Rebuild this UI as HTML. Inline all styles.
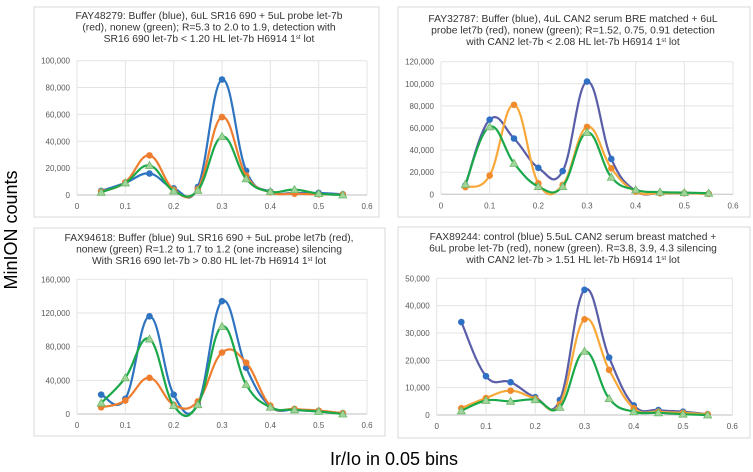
<!DOCTYPE html>
<html><head><meta charset="utf-8"><style>
body{margin:0;background:#fff;width:753px;height:472px;overflow:hidden;font-family:"Liberation Sans",sans-serif}
svg{position:absolute;left:0;top:0}
</style></head><body>
<svg id="c" width="753" height="472" viewBox="0 0 753 472">
<text x="17" y="230" font-size="18" text-anchor="middle" transform="rotate(-90 17 230)" fill="#000">MinION counts</text>
<text x="394" y="465" font-size="18" text-anchor="middle" fill="#000">Ir/Io in 0.05 bins</text>
</svg>
<script>
const xs=[0.05,0.1,0.15,0.2,0.25,0.3,0.35,0.4,0.45,0.5,0.55];
const xTicks=[0,0.1,0.2,0.3,0.4,0.5,0.6];
const p1Blue=[3000,9000,16000,5000,6000,86000,18000,2500,1500,1500,500];
const p1Orange=[2500,9500,29500,4000,4500,58000,14500,2000,1000,500,300];
const p1Green=[2000,9000,22000,3000,3500,43500,12000,2500,4000,1000,0];
const p1YTicks=[0,20000,40000,60000,80000,100000];
const p2Blue=[8000,67500,50500,24000,21000,102000,32000,3000,1000,1000,500];
const p2Orange=[6500,17000,81000,10000,8500,61000,23500,2500,1000,1000,500];
const p2Green=[9000,61000,28000,7000,7000,56000,15500,4000,2000,1500,1000];
const p2YTicks=[0,20000,40000,60000,80000,100000,120000];
const p3Blue=[23000,18000,116000,23000,12000,134000,55000,9000,5000,3000,1000];
const p3Orange=[8000,16000,43000,11000,15000,73000,61000,10000,6000,4000,1000];
const p3Green=[13000,43000,89000,10000,11000,104000,35000,8000,5000,3000,0];
const p3YTicks=[0,40000,80000,120000,160000];
const p4Blue=[34000,14200,12000,6500,5500,45800,21000,3500,1800,1200,300];
const p4Orange=[2500,6200,8900,6000,4000,35000,16500,2500,1200,800,300];
const p4Green=[1500,5300,5000,5600,2800,23300,6000,1200,800,300,0];
const p4YTicks=[0,10000,20000,30000,40000,50000];

const NS="http://www.w3.org/2000/svg";
const svg=document.getElementById('c');
function mk(tag,attrs,parent){const e=document.createElementNS(NS,tag);for(const k in attrs)e.setAttribute(k,attrs[k]);(parent||svg).appendChild(e);return e;}
function fmt(v){return v.toLocaleString('en-US');}
function panel(cfg){
  const g=mk('g',{});
  
  
  const box=mk('rect',{x:cfg.box[0],y:cfg.box[1],width:cfg.box[2],height:cfg.box[3],fill:'#fff',stroke:'#d9d9d9','stroke-width':1},g);
  
  
  cfg.title.forEach((t,i)=>{
    const tx=mk('text',{x:cfg.tx,y:cfg.ty+i*11.5,'font-size':10.3,'text-anchor':'middle',fill:'#333'},g);
    tx.innerHTML=t;
    
    
  });
  const ymax=cfg.yTicks[cfg.yTicks.length-1];
  const X=v=>cfg.x0+(cfg.x1-cfg.x0)*v/0.6;
  const Y=v=>cfg.y0-(cfg.y0-cfg.y1)*v/ymax;
  cfg.yTicks.forEach(t=>{
    const l=mk('line',{x1:X(0),x2:X(0.6),y1:Y(t),y2:Y(t),stroke:t===0?'#bfbfbf':'#e3e3e3','stroke-width':1},g);
    
    
    const tl=mk('text',{x:X(0)-7,y:Y(t)+3,'font-size':8,'text-anchor':'end',fill:'#595959'},g);
    tl.textContent=fmt(t);
    
    
  });
  xTicks.forEach(t=>{
    const l=mk('line',{x1:X(t),x2:X(t),y1:Y(0),y2:Y(ymax),stroke:'#e3e3e3','stroke-width':1},g);
    
    
    const tl=mk('text',{x:X(t),y:Y(0)+14,'font-size':8,'text-anchor':'middle',fill:'#595959'},g);
    tl.textContent=String(t);
    
    
  });
  cfg.series.forEach(s=>{
    const pts=s.data.map((v,i)=>[X(xs[i]),Y(v)]);
    let d='M'+pts[0][0]+','+pts[0][1];
    for(let i=0;i<pts.length-1;i++){
      const p0=pts[Math.max(0,i-1)],p1=pts[i],p2=pts[i+1],p3=pts[Math.min(pts.length-1,i+2)];
      const k=0.2;
      d+=` C${p1[0]+(p2[0]-p0[0])*k},${p1[1]+(p2[1]-p0[1])*k} ${p2[0]-(p3[0]-p1[0])*k},${p2[1]-(p3[1]-p1[1])*k} ${p2[0]},${p2[1]}`;
    }
    const path=mk('path',{d:d,fill:'none',stroke:s.line,'stroke-width':2.2},g);
    
    
    pts.forEach(p=>{
      let m;
      if(s.tri){m=mk('polygon',{points:`${p[0]},${p[1]-4} ${p[0]-4},${p[1]+3} ${p[0]+4},${p[1]+3}`,fill:'#9fd49a',stroke:'#6db86a','stroke-width':0.8},g);}
      else{m=mk('circle',{cx:p[0],cy:p[1],r:3.3,fill:s.marker},g);}
      
      
    });
  });
}
panel({name:'panel-fay48279',box:[34,7,345,210],tx:209,ty:19,
  title:['FAY48279: Buffer (blue), 6uL SR16 690 + 5uL probe let-7b','(red), nonew (green); R=5.3 to 2.0 to 1.9, detection with','SR16 690 let-7b &lt; 1.20 HL let-7b H6914 1<tspan font-size="6" dy="-3">st</tspan><tspan dy="3"> lot</tspan>'],
  x0:77,x1:367,y0:195,y1:60.7,yTicks:p1YTicks,
  series:[{name:'blue-buffer',data:p1Blue,line:'#2f74c0',marker:'#2f74c0'},{name:'orange-probe',data:p1Orange,line:'#ef7d2f',marker:'#ef7d2f'},{name:'green-nonew',data:p1Green,line:'#1aa84a',tri:true}]});
panel({name:'panel-fay32787',box:[398,7,352,210],tx:573,ty:22,
  title:['FAY32787: Buffer (blue), 4uL CAN2 serum BRE matched + 6uL','probe let7b (red), nonew (green); R=1.52, 0.75, 0.91 detection','with CAN2 let-7b &lt; 2.08 HL let-7b H6914 1<tspan font-size="6" dy="-3">st</tspan><tspan dy="3"> lot</tspan>'],
  x0:441,x1:733,y0:194.3,y1:61.7,yTicks:p2YTicks,
  series:[{name:'blue-buffer',data:p2Blue,line:'#5a5ea8',marker:'#2f6fc4'},{name:'orange-probe',data:p2Orange,line:'#f7a838',marker:'#f08a2a'},{name:'green-nonew',data:p2Green,line:'#1aa84a',tri:true}]});
panel({name:'panel-fax94618',box:[34,228,351,208],tx:209,ty:241,
  title:['FAX94618: Buffer (blue) 9uL SR16 690 + 5uL probe let7b (red),','nonew (green) R=1.2 to 1.7 to 1.2 (one increase) silencing','With SR16 690 let-7b &gt; 0.80 HL let-7b H6914 1<tspan font-size="6" dy="-3">st</tspan><tspan dy="3"> lot</tspan>'],
  x0:77,x1:367,y0:414,y1:279.3,yTicks:p3YTicks,
  series:[{name:'blue-buffer',data:p3Blue,line:'#2f74c0',marker:'#2f74c0'},{name:'orange-probe',data:p3Orange,line:'#ef7d2f',marker:'#ef7d2f'},{name:'green-nonew',data:p3Green,line:'#1aa84a',tri:true}]});
panel({name:'panel-fax89244',box:[398,227,352,211],tx:573,ty:240,
  title:['FAX89244: control (blue) 5.5uL CAN2 serum breast matched +','6uL probe let-7b (red), nonew (green). R=3.8, 3.9, 4.3 silencing','with CAN2 let-7b &gt; 1.51 HL let-7b H6914 1<tspan font-size="6" dy="-3">st</tspan><tspan dy="3"> lot</tspan>'],
  x0:436.7,x1:732.3,y0:415,y1:278.3,yTicks:p4YTicks,
  series:[{name:'blue-control',data:p4Blue,line:'#5a5ea8',marker:'#2f6fc4'},{name:'orange-probe',data:p4Orange,line:'#f7a838',marker:'#f08a2a'},{name:'green-nonew',data:p4Green,line:'#1aa84a',tri:true}]});
</script>
</body></html>
